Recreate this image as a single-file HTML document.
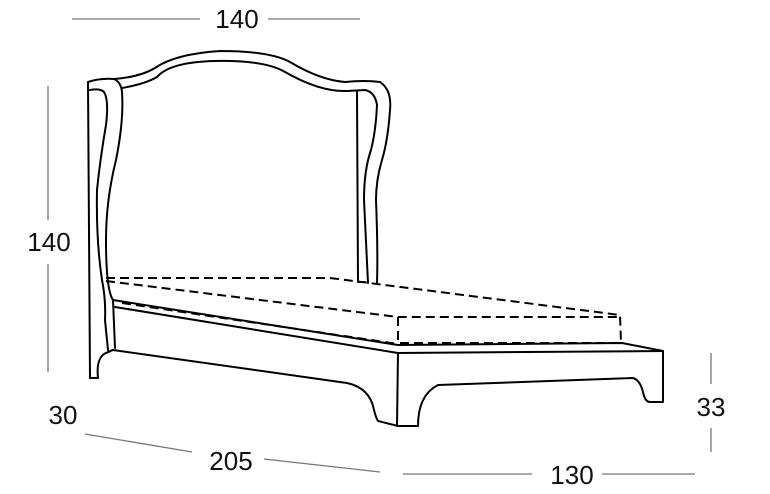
<!DOCTYPE html>
<html><head><style>
html,body{margin:0;padding:0;background:#fff;}
svg{display:block;}
text{font-family:"Liberation Sans",sans-serif;font-size:26px;fill:#111;}
</style></head><body>
<svg width="770" height="494" viewBox="0 0 770 494" xmlns="http://www.w3.org/2000/svg">
<g stroke="#777" stroke-width="1.3" fill="none">
<line x1="72" y1="19" x2="200" y2="19"/>
<line x1="268" y1="19" x2="360" y2="19"/>
<line x1="48" y1="86" x2="48" y2="220"/>
<line x1="48" y1="264" x2="48" y2="372"/>
<line x1="85" y1="434" x2="192" y2="452"/>
<line x1="264" y1="459" x2="380" y2="472"/>
<line x1="403" y1="474" x2="532" y2="474"/>
<line x1="602" y1="474" x2="695" y2="474"/>
<line x1="711" y1="353" x2="711" y2="384"/>
<line x1="711" y1="428" x2="711" y2="452"/>
</g>
<text x="237" y="28" text-anchor="middle">140</text>
<text x="49" y="251" text-anchor="middle">140</text>
<text x="63" y="424" text-anchor="middle">30</text>
<text x="231" y="470" text-anchor="middle">205</text>
<text x="572" y="484" text-anchor="middle">130</text>
<text x="711" y="416" text-anchor="middle">33</text>
<g stroke="#000" stroke-width="2" fill="none" stroke-linejoin="round" stroke-linecap="round">
<path d="M90,378 L88,82 Q100,78 114,79 Q121,82 122,92 Q124,120 116,160 Q106,200 106,240 Q106,290 113,300 L115,348"/>
<path d="M90,378 L98,378 Q96,360 104,354 Q110,351 113,350"/>
<path d="M90,90 Q100,88 104,92 Q109,100 106,125 Q100,160 97,190 Q96,240 102,280 Q106,300 105,320 L108,350"/>
<path d="M114,79 Q140,77 155,68 Q175,54 220,51 Q270,51 290,62 Q320,80 345,82 Q365,80 380,82 Q392,90 390,110 Q388,140 382,160 Q376,180 376,200 Q378,250 377,283"/>
<path d="M122,88 Q145,84 157,77 Q170,62 215,61 Q265,60 285,72 Q320,92 347,91 L365,90 Q375,92 377,105 Q376,130 371,150 Q364,170 364,200 L368,283"/>
<path d="M357,92 L358,282 L365,282"/>
<path d="M113,300 L398,345 L622,343 L663,351"/>
<path d="M115,307 L398,353 L663,351"/>
<path d="M113,350 L347,383 Q370,388 374,410 Q376,418 378,421 L398,426"/>
<path d="M398,353 L397,426 L418,426 Q418,395 438,385 L633,378 Q640,380 643,392 Q645,402 650,402 L663,402 L663,351"/>
</g>
<g stroke="#000" stroke-width="2" fill="none" stroke-dasharray="9,5">
<path d="M106,278 L330,278 L620,315 L621,343"/>
<path d="M106,281 L398,317 L620,317"/>
<path d="M398,317 L398,343 L621,343"/>
<path d="M122,303 L398,344"/>
</g>
</svg>
</body></html>
